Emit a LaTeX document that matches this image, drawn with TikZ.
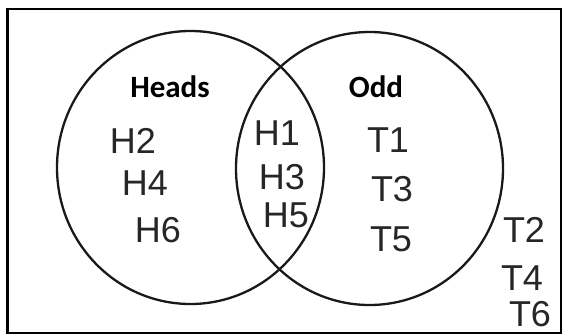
\documentclass[tikz,border=0pt]{standalone}
\usepackage{fontspec}
\setmainfont{Liberation Sans}
\newfontfamily\labelfont{Carlito}
\begin{document}
\begin{tikzpicture}[x=1pt,y=-1pt,
  frame/.style={draw=black,line width=2.6pt},
  setring/.style={draw=black!90,line width=2.3pt},
  setname/.style={font=\labelfont\bfseries\fontsize{31}{33}\selectfont,text=black,inner sep=0pt},
  hand/.style={font=\fontsize{36}{38}\selectfont,text=black!85,inner sep=0pt}]
\useasboundingbox (0,0) rectangle (564,335);
\draw[frame] (7.5,9) rectangle (561,333);
\draw[setring] (190.5,167.5) ellipse [x radius=133.5pt, y radius=136.5pt];
\draw[setring] (369.5,168.5) ellipse [x radius=133.5pt, y radius=136.5pt];
\node[setname] (heads) at (170,87) {Heads};
\node[setname] (odd) at (376,87) {Odd};
\node[hand] (h2) at (133,141) {H2};
\node[hand] (h4) at (145,183) {H4};
\node[hand] (h6) at (158,230) {H6};
\node[hand] (h1) at (277,133) {H1};
\node[hand] (h3) at (282,177) {H3};
\node[hand] (h5) at (286,215) {H5};
\node[hand] (t1) at (388,140) {T1};
\node[hand] (t3) at (392,189) {T3};
\node[hand] (t5) at (391,239) {T5};
\node[hand] (t2) at (524,230) {T2};
\node[hand] (t4) at (522,278) {T4};
\node[hand] (t6) at (530,314) {T6};
\end{tikzpicture}
\end{document}
